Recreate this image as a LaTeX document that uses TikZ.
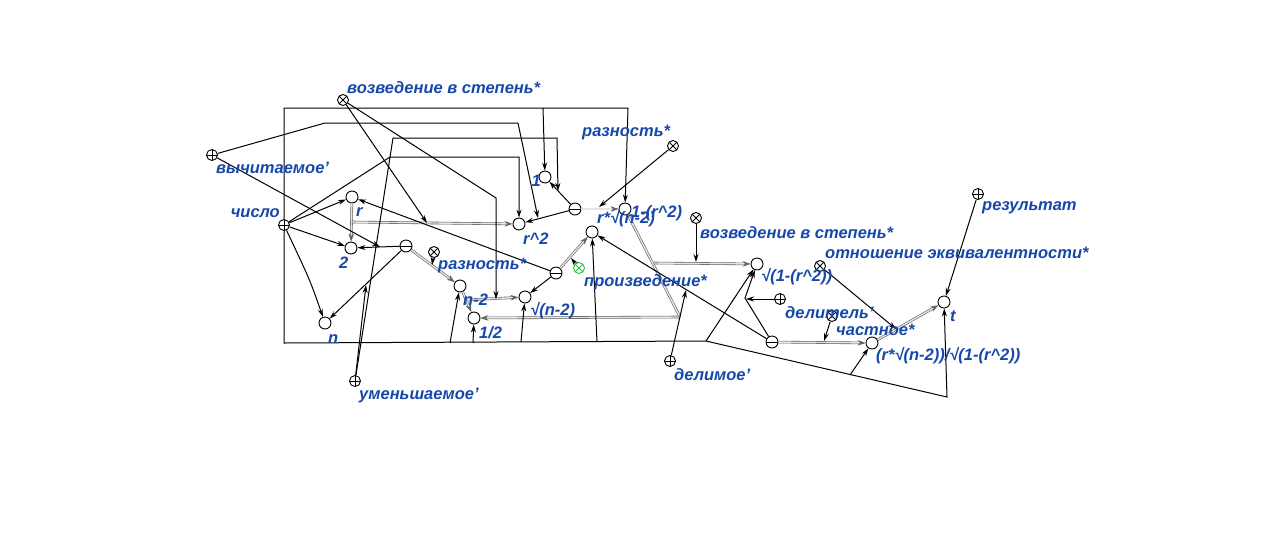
\documentclass[tikz,border=0pt]{standalone}
\usepackage{fontspec}
\setmainfont{Liberation Sans}
\usetikzlibrary{arrows.meta}
\definecolor{labblue}{RGB}{22,72,170}
\definecolor{grn}{RGB}{40,200,60}
\tikzset{
  el/.style={circle, draw=black, line width=0.9pt, fill=white, minimum size=12pt, inner sep=0pt},
  xel/.style={el, minimum size=11pt, path picture={\draw[line width=0.8pt] (path picture bounding box.north west)--(path picture bounding box.south east) (path picture bounding box.north east)--(path picture bounding box.south west);}},
  pel/.style={el, minimum size=11pt, path picture={\draw[line width=0.8pt] (path picture bounding box.north)--(path picture bounding box.south) (path picture bounding box.west)--(path picture bounding box.east);}},
  mel/.style={el, path picture={\draw[line width=0.8pt] (path picture bounding box.west)--(path picture bounding box.east);}},
  arc/.style={draw=black, line width=1pt, -{Stealth[length=8pt,width=5pt]}},
  parc/.style={draw=gray!75!black, line width=0.6pt, double=gray!20, double distance=1.4pt, -{Stealth[length=8pt,width=5.5pt]}},
  pline/.style={draw=gray!75!black, line width=0.6pt, double=gray!20, double distance=1.4pt},
  lab/.style={font=\bfseries\itshape\fontsize{16.5}{18}\selectfont, text=labblue, inner sep=0pt, anchor=west},
}
\begin{document}
\begin{tikzpicture}[x=1pt,y=-1pt]
\useasboundingbox[fill=white] (0,0) rectangle (1280,550);

% ---------- nodes ----------
\node[xel] (vozv1) at (343,100) {};
\node[pel] (vych) at (212,155) {};
\node[pel] (chislo) at (284,225) {};
\node[el] (r) at (352,197) {};
\node[el] (two) at (351,248) {};
\node[mel] (minA) at (406,246) {};
\node[xel] (razA) at (434,252) {};
\node[el] (n) at (325,323) {};
\node[pel] (umen) at (355,381) {};
\node[el] (nm2) at (460,286) {};
\node[el] (half) at (474,318) {};
\node[el] (sqn) at (525,297) {};
\node[mel] (minP) at (556,273) {};
\node[xel, draw=grn, path picture={\draw[grn,line width=0.8pt] (path picture bounding box.north west)--(path picture bounding box.south east) (path picture bounding box.north east)--(path picture bounding box.south west);}] (proizv) at (579,268) {};
\node[el] (rsq) at (592,232) {};
\node[el] (r2) at (519,224) {};
\node[el] (one) at (545,177) {};
\node[mel] (minB) at (575,209) {};
\node[el] (omr) at (625,209) {};
\node[xel] (razB) at (673,146) {};
\node[xel] (vozv2) at (696,218) {};
\node[el] (sq1) at (757,264) {};
\node[pel] (delitel) at (780,299) {};
\node[xel] (ekv) at (820,266) {};
\node[xel] (chast) at (832,316) {};
\node[mel] (minQ) at (772,342) {};
\node[el] (res) at (872,343) {};
\node[el] (t) at (944,302) {};
\node[pel] (rezult) at (978,194) {};
\node[pel] (delimoe) at (670,361) {};

% ---------- coordinates ----------
\coordinate (cTopL) at (284,108);
\coordinate (cTopR) at (628,108);
\coordinate (cTopOne) at (543,108);
\coordinate (cBL) at (284,343);
\coordinate (cB1) at (706,341);
\coordinate (cB2) at (947,397);
\coordinate (cBn2) at (450,343);
\coordinate (cBh) at (473,343);
\coordinate (cBs) at (521,342);
\coordinate (cBr) at (597,342);
\coordinate (cBres) at (850,375);
\coordinate (cL1) at (390,157);
\coordinate (cL2) at (519,157);
\coordinate (cV1) at (380,247);
\coordinate (cV2) at (325,123);
\coordinate (cV3) at (518,123);
\coordinate (cV4) at (538,218);
\coordinate (cU1) at (366,285);
\coordinate (cU2) at (393,138);
\coordinate (cU3) at (557,138);
\coordinate (cU4) at (558,191);
\coordinate (cZ1) at (427,223);
\coordinate (cZ2) at (496,198);
\coordinate (cZ3) at (496,299);
\coordinate (cRA) at (432,265);
\coordinate (cRB) at (599,207);
\coordinate (cPr) at (571,258);
\coordinate (cV2b) at (696,262);
\coordinate (cDl) at (746,299);
\coordinate (cDm) at (686,290);
\coordinate (cCh) at (824,341);
\coordinate (cEk) at (896,329);
\coordinate (cQ1) at (745,298);
\coordinate (cR1) at (352,222);
\coordinate (cN2b) at (466,300);
\coordinate (cO1) at (680,317);
\coordinate (cO2) at (654,263);

% ---------- pair (double) arcs ----------
\draw[parc] (r) -- (two);
\draw[parc] (cR1) -- (r2);
\draw[parc] (minA) -- (nm2);
\draw[parc] (nm2) -- (half);
\draw[parc] (cN2b) -- (sqn);
\draw[parc] (minP) -- (rsq);
\draw[parc] (minB) -- (omr);
\draw[pline] (omr) -- (cO1);
\draw[parc] (cO1) -- (half);
\draw[parc] (cO2) -- (sq1);
\draw[parc] (minQ) -- (res);
\draw[parc] (res) -- (t);

% ---------- membership arcs ----------
\draw[arc] (chislo) -- (r);
\draw[arc] (chislo) -- (two);
\draw[arc] (chislo) .. controls (310,280) .. (n);
\draw[arc] (chislo) -- (cTopL) -- (cTopR) -- (omr);
\draw[arc] (cTopOne) -- (one);
\draw[arc] (chislo) -- (cL1) -- (cL2) -- (r2);
\draw[arc] (chislo) -- (cBL) -- (cB1) -- (cB2) -- (t);
\draw[arc] (cBn2) -- (nm2);
\draw[arc] (cBh) -- (half);
\draw[arc] (cBs) -- (sqn);
\draw[arc] (cBr) -- (rsq);
\draw[arc] (cB1) -- (sq1);
\draw[arc] (cBres) -- (res);

\draw[arc] (minA) -- (two);
\draw[arc] (minA) -- (n);
\draw[arc] (minB) -- (one);
\draw[arc] (minB) -- (r2);
\draw[arc] (minP) -- (r);
\draw[arc] (minP) -- (sqn);
\draw[arc] (minQ) -- (rsq);
\draw[arc] (minQ) -- (cQ1) -- (sq1);

\draw[arc] (vych) -- (cV1);
\draw[arc] (vych) -- (cV2) -- (cV3) -- (cV4);
\draw[arc] (umen) -- (cU1);
\draw[arc] (umen) -- (cU2) -- (cU3) -- (cU4);
\draw[arc] (vozv1) -- (cZ1);
\draw[arc] (vozv1) -- (cZ2) -- (cZ3);
\draw[arc] (razA) -- (cRA);
\draw[arc] (razB) -- (cRB);
\draw[arc] (proizv) -- (cPr);
\draw[arc] (vozv2) -- (cV2b);
\draw[arc] (delitel) -- (cDl);
\draw[arc] (delimoe) -- (cDm);
\draw[arc] (chast) -- (cCh);
\draw[arc] (ekv) -- (cEk);
\draw[arc] (rezult) -- (t);

% ---------- labels ----------
\node[lab] (l1) at (347,88) {возведение в степень*};
\node[lab] (l2) at (216,168) {вычитаемое'};
\node[lab, anchor=east] (l3) at (280,213) {число};
\node[lab] (l4) at (356,212) {r};
\node[lab] (l5) at (339,263) {2};
\node[lab] (l6) at (328,339) {n};
\node[lab] (l7) at (359,396) {уменьшаемое'};
\node[lab] (l8) at (438,266) {разность*};
\node[lab] (l9) at (463,300) {n-2};
\node[lab] (l10) at (479,333) {1/2};
\node[lab] (l11) at (530,311) {√(n-2)};
\node[lab] (l12) at (584,282) {произведение*};
\node[lab] (l13) at (523,239) {r\^{}2};
\node[lab, anchor=east] (l14) at (541,181) {1};
\node[lab] (l15) at (597,219) {r*√(n-2)};
\node[lab] (l16) at (631,213) {1-(r\^{}2)};
\node[lab] (l17) at (582,133) {разность*};
\node[lab] (l18) at (700,233) {возведение в степень*};
\node[lab] (l19) at (761,277) {√(1-(r\^{}2))};
\node[lab] (l20) at (785,313) {делитель'};
\node[lab] (l21) at (825,253) {отношение эквивалентности*};
\node[lab] (l22) at (836,330) {частное*};
\node[lab] (l23) at (876,356) {(r*√(n-2))/√(1-(r\^{}2))};
\node[lab] (l24) at (950,316) {t};
\node[lab] (l25) at (982,208) {результат};
\node[lab] (l26) at (674,375) {делимое'};
\end{tikzpicture}
\end{document}
